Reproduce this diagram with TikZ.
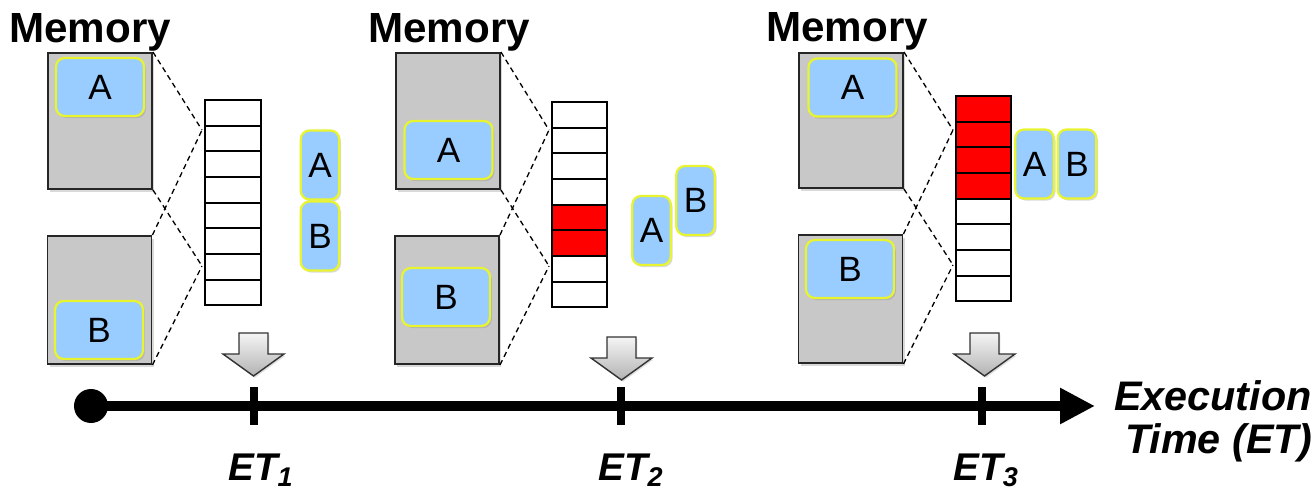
\documentclass[tikz,border=0pt]{standalone}
\usepackage{fontspec}
\setmainfont{Liberation Sans}
\usetikzlibrary{arrows.meta,positioning,shadows,calc}
\definecolor{memgray}{RGB}{200,200,200}
\definecolor{blkblue}{RGB}{153,204,255}
\definecolor{blkedge}{RGB}{232,244,48}
\tikzset{
  membox/.style  = {draw=black!85,line width=1.1pt,fill=memgray,minimum width=2.08cm,
                    drop shadow={shadow xshift=1.2pt,shadow yshift=-1.5pt,opacity=0.3}},
  blk/.style     = {draw=blkedge,line width=1.3pt,fill=blkblue,rounded corners=5pt,
                    minimum width=1.76cm,minimum height=1.16cm,inner sep=0pt,
                    font=\fontsize{20}{24}\selectfont,
                    drop shadow={shadow xshift=1pt,shadow yshift=-1.2pt,opacity=0.3}},
  act/.style     = {blk,minimum width=0.77cm,minimum height=1.38cm},
  cell/.style    = {draw=black,line width=1.1pt,minimum width=1.11cm,minimum height=0.513cm,
                    inner sep=0pt,outer sep=0pt},
  zoomline/.style= {dashed,line width=0.75pt,dash pattern=on 3pt off 2.2pt},
  memlabel/.style= {font=\fontsize{24}{27}\selectfont\bfseries,anchor=base west,inner sep=0pt},
  etlabel/.style = {font=\fontsize{22}{26}\selectfont\bfseries\itshape,inner sep=0pt},
  etmark/.style  = {fill=black,minimum width=0.16cm,minimum height=0.76cm,inner sep=0pt},
  timeline/.style= {line width=6.2pt,-{Triangle[length=0.7cm,width=0.68cm]}},
  grayarrow/.pic = {\path[draw=black!80,line width=0.8pt,top color=gray!8,bottom color=gray!60,
                    drop shadow={shadow xshift=0.8pt,shadow yshift=-1pt,opacity=0.25}]
                    (-14.5,0) -- (14.5,0) -- (14.5,21) -- (30.5,21) -- (0,43)
                    -- (-30.5,21) -- (-14.5,21) -- cycle;},
}
\begin{document}
\begin{tikzpicture}[x=0.02cm,y=-0.02cm]
  \useasboundingbox (0,0) rectangle (1316,490);

  % first snapshot
  \node[memlabel] (mlab1) at (9,42) {Memory};
  \node[membox,minimum height=2.72cm] (mem1a) at (100,121) {};
  \node[membox,minimum height=2.56cm] (mem1b) at (99.5,300) {};
  \node[blk] (blk1a) at (100,87) {A};
  \node[blk] (blk1b) at (99,330) {B};
  \foreach \i/\fc in {1/white,2/white,3/white,4/white,5/white,6/white,7/white,8/white}
    \node[cell,fill=\fc] (c1-\i) at (233,{100+25.65*(\i-0.5)}) {};
  \coordinate (z1t) at (202,130);
  \coordinate (z1b) at (202,266);
  \draw[zoomline] (mem1a.north east) -- (z1t);
  \draw[zoomline] (mem1a.south east) -- (z1b);
  \draw[zoomline] (mem1b.north east) -- (z1t);
  \draw[zoomline] (mem1b.south east) -- (z1b);
  \node[act] (act1a) at (320,165) {A};
  \node[act] (act1b) at (320,236) {B};

  % second snapshot
  \node[memlabel] (mlab2) at (368,42) {Memory};
  \node[membox,minimum height=2.72cm] (mem2a) at (448,121) {};
  \node[membox,minimum height=2.56cm] (mem2b) at (447,300) {};
  \node[blk] (blk2a) at (448.5,150) {A};
  \node[blk] (blk2b) at (446,297) {B};
  \foreach \i/\fc in {1/white,2/white,3/white,4/white,5/red,6/red,7/white,8/white}
    \node[cell,fill=\fc] (c2-\i) at (579.5,{102+25.65*(\i-0.5)}) {};
  \coordinate (z2t) at (549,130);
  \coordinate (z2b) at (549,266);
  \draw[zoomline] (mem2a.north east) -- (z2t);
  \draw[zoomline] (mem2a.south east) -- (z2b);
  \draw[zoomline] (mem2b.north east) -- (z2t);
  \draw[zoomline] (mem2b.south east) -- (z2b);
  \node[act] (act2a) at (651.5,230.5) {A};
  \node[act] (act2b) at (695.5,200.5) {B};

  % third snapshot
  \node[memlabel] (mlab3) at (766,41) {Memory};
  \node[membox,minimum height=2.70cm] (mem3a) at (851,120.5) {};
  \node[membox,minimum height=2.56cm] (mem3b) at (850.5,299) {};
  \node[blk] (blk3a) at (852.5,87.5) {A};
  \node[blk] (blk3b) at (850,269) {B};
  \foreach \i/\fc in {1/red,2/red,3/red,4/red,5/white,6/white,7/white,8/white}
    \node[cell,fill=\fc] (c3-\i) at (983.5,{96+25.65*(\i-0.5)}) {};
  \coordinate (z3t) at (953,130);
  \coordinate (z3b) at (953,265);
  \draw[zoomline] (mem3a.north east) -- (z3t);
  \draw[zoomline] (mem3a.south east) -- (z3b);
  \draw[zoomline] (mem3b.north east) -- (z3t);
  \draw[zoomline] (mem3b.south east) -- (z3b);
  \node[act] (act3a) at (1034.5,164) {A};
  \node[act] (act3b) at (1077,164) {B};

  % time axis
  \node[circle,fill=black,minimum size=0.68cm,inner sep=0pt] (t0) at (91,406) {};
  \coordinate (tend) at (1095,406);
  \draw[timeline] (t0.center) -- (tend);
  \node[etmark] (et1) at (253.5,406) {};
  \node[etmark] (et2) at (621,406) {};
  \node[etmark] (et3) at (982,406) {};
  \pic at (253.5,333) {grayarrow};
  \pic at (621.5,337) {grayarrow};
  \pic at (984.5,333) {grayarrow};
  \node[etlabel,anchor=base west] (etl1) at (228,480) {ET\textsubscript{1}};
  \node[etlabel,anchor=base west] (etl2) at (598,480) {ET\textsubscript{2}};
  \node[etlabel,anchor=base west] (etl3) at (953,480) {ET\textsubscript{3}};
  \node[etlabel,font=\fontsize{23.5}{27}\selectfont\bfseries\itshape,anchor=base east]
       (xl1) at (1312,410) {Execution};
  \node[etlabel,font=\fontsize{23.5}{27}\selectfont\bfseries\itshape,anchor=base east]
       (xl2) at (1313,453) {Time (ET)};
\end{tikzpicture}
\end{document}
